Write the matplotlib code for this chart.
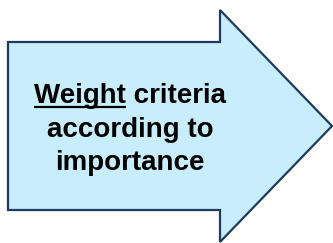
import matplotlib
matplotlib.use("Agg")
import matplotlib.pyplot as plt
from matplotlib.patches import Polygon

# arrow outline (pixel coords, y down)
arrow_x = [8, 220, 220, 332, 220, 220, 8]
arrow_y = [42, 42, 10, 126, 242, 210, 210]

lines = ["Weight criteria", "according to", "importance"]
underlined = "Weight"
line_y = [103, 137, 170]
text_x = 130

fig = plt.figure(figsize=(3.33, 2.43), dpi=100)
ax = fig.add_axes([0, 0, 1, 1])
ax.set_xlim(0, 333)
ax.set_ylim(243, 0)
ax.axis("off")

ax.add_patch(Polygon(list(zip(arrow_x, arrow_y)), closed=True,
                     facecolor="#C8EEFD", edgecolor="#1F3A60", linewidth=1.6,
                     joinstyle="miter"))

font = dict(family="Liberation Sans", weight="bold", size=20, color="black")
texts = []
for s, y in zip(lines, line_y):
    texts.append(ax.text(text_x, y, s, ha="center", va="baseline", **font))

# underline the first word
fig.canvas.draw()
r = fig.canvas.get_renderer()
inv = ax.transData.inverted()
bb = texts[0].get_window_extent(r)
probe = ax.text(0, 0, underlined, **font)
wb = probe.get_window_extent(r)
probe.remove()
x0 = inv.transform((bb.x0, 0))[0]
x1 = inv.transform((bb.x0 + wb.width, 0))[0]
ax.plot([x0, x1], [line_y[0] + 4, line_y[0] + 4], color="black", lw=1.6,
        solid_capstyle="butt")

fig.savefig("out.png", dpi=100)
